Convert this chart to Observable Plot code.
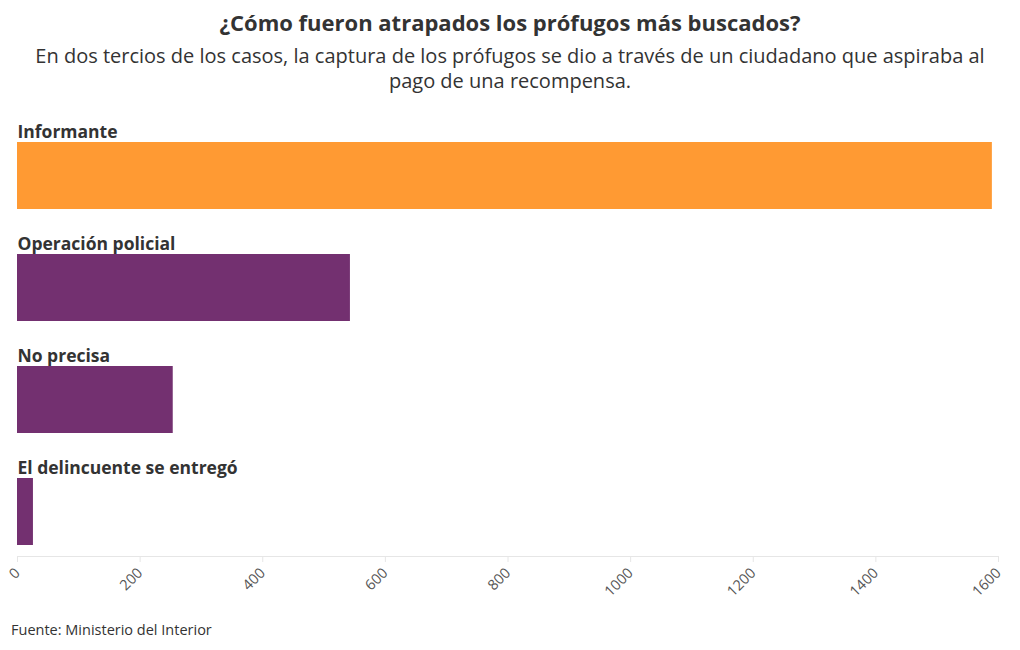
<!DOCTYPE html>
<html>
<head>
<meta charset="utf-8">
<script src="https://cdn.jsdelivr.net/npm/d3@7"></script>
<script src="https://cdn.jsdelivr.net/npm/@observablehq/plot@0.6"></script>
<style>
  body { margin: 0; background: #fff; font-family: "Open Sans", Lato, sans-serif; color: #333; }
  #wrap { width: 1020px; height: 650px; position: relative; }
  h1 { margin: 0; position: absolute; top: 7px; left: 0; width: 1020px; text-align: center; font-size: 22px; font-weight: 700; color: #333; line-height: 30px; }
  .sub { position: absolute; top: 43px; left: 0; width: 1020px; text-align: center; font-size: 20px; line-height: 25px; color: #333; }
  #chart { position: absolute; top: 100px; left: 0; }
  .cap { position: absolute; top: 620px; left: 11px; font-size: 14.5px; color: #333; }
</style>
</head>
<body>
<div id="wrap">
  <h1>¿Cómo fueron atrapados los prófugos más buscados?</h1>
  <div class="sub">En dos tercios de los casos, la captura de los prófugos se dio a través de un ciudadano que aspiraba al<br>pago de una recompensa.</div>
  <div id="chart"></div>
  <div class="cap">Fuente: Ministerio del Interior</div>
</div>
<script>
const categories = ["Informante", "Operación policial", "No precisa", "El delincuente se entregó"];
const values = [1590, 543, 254, 26];
const highlight = ["Informante"];
const xTicks = [0, 200, 400, 600, 800, 1000, 1200, 1400, 1600];

const data = categories.map((c, i) => ({cat: c, value: values[i], hl: highlight.includes(c) ? "hl" : "base"}));

const chart = Plot.plot({
  width: 1020,
  height: 510,
  marginLeft: 17,
  marginRight: 22,
  marginTop: 42,
  marginBottom: 54,
  style: {fontFamily: "'Open Sans', Lato, sans-serif", background: "#fff"},
  x: {domain: [0, 1600], ticks: xTicks, label: null, tickFormat: d3.format("d")},
  y: {domain: categories, paddingInner: 0.402, paddingOuter: 0, insetBottom: 11, axis: null},
  color: {domain: ["hl", "base"], range: ["#ff9a33", "#733070"]},
  marks: [
    Plot.frame({anchor: "bottom", stroke: "#e6e6e6"}),
    Plot.axisX({ticks: xTicks, tickFormat: d3.format("d"), tickRotate: -45, tickSize: 6, stroke: "#e6e6e6", color: "#555", fontSize: 14.5, tickPadding: 8, label: null}),
    Plot.barX(data, {x: "value", y: "cat", fill: "hl"}),
    Plot.text(data, {x: () => 0, y: "cat", text: "cat", textAnchor: "start", lineAnchor: "bottom", dy: -38.5, fontSize: 17.5, fontWeight: 700, fill: "#333"})
  ]
});
document.getElementById("chart").appendChild(chart);
</script>
</body>
</html>
